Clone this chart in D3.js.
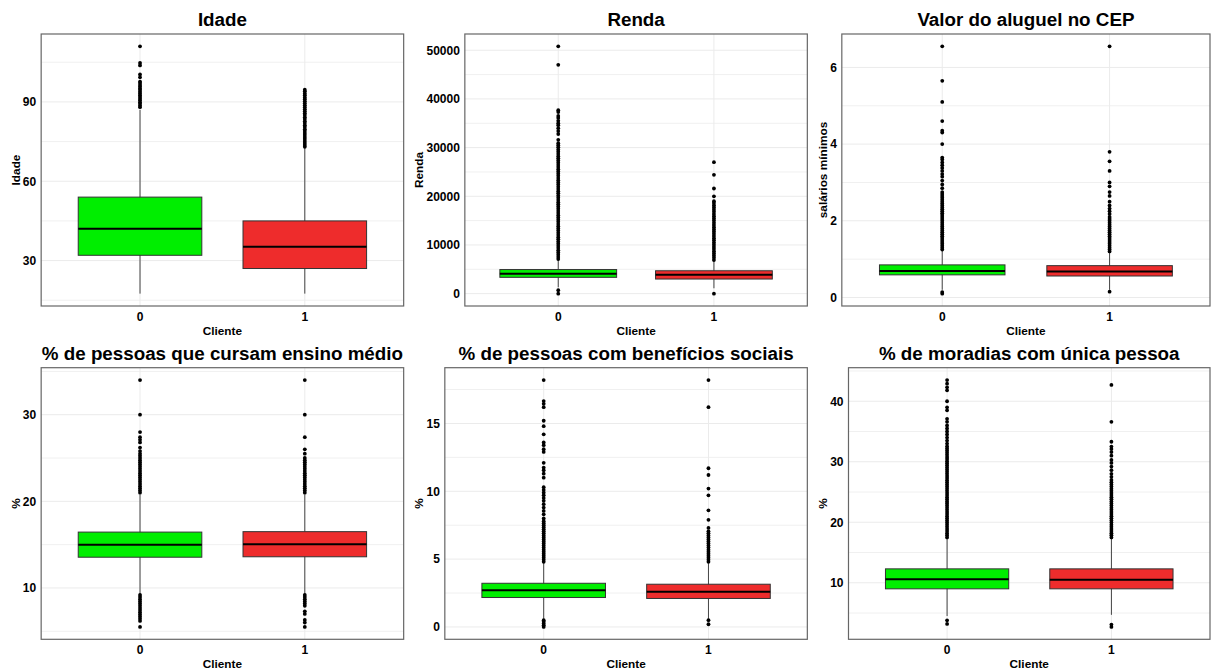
<!DOCTYPE html>
<html>
<head>
<meta charset="utf-8">
<script src="https://cdn.jsdelivr.net/npm/d3@7"></script>
<style>
    body { margin: 0; background: #fff; }
    svg { display: block; font-family: "Liberation Sans", Arial, sans-serif; }
    .title { font-size: 18.8px; font-weight: bold; fill: #000; }
    .tick-label { font-size: 12px; font-weight: bold; fill: #000; }
    .axis-title { font-size: 11.8px; font-weight: bold; fill: #000; }
</style>
</head>
<body>
<svg id="chart" width="1211" height="670"></svg>
<script>
const groups = ["0", "1"]
const groupColors = ["#00ee00", "#ee2c2c"]

// stats per group: [lower whisker, q1, median, q3, upper whisker]
const idadeTicks = [30, 60, 90]
const idadeStats = [[17.5, 32, 42, 54, 87], [17.5, 27, 35.2, 45, 72.5]]
const idadeOut0 = [88, 88.6, 89.3, 89.9, 90.6, 91.2, 91.9, 92.5, 93.2, 93.8, 94.5, 95.1, 95.8, 96.4, 97.1, 97.7, 99.3, 100.4, 103.8, 104.7, 111]
const idadeOut1 = [73, 73.7, 74.5, 75.2, 76, 76.7, 77.5, 78.2, 79, 79.7, 80.5, 81.2, 82, 82.7, 83.5, 84.2, 85, 85.7, 86.5, 87.2, 88, 88.7, 89.5, 90.2, 91, 91.7, 92.5, 93.2, 94, 94.6]

const rendaTicks = [0, 10000, 20000, 30000, 40000, 50000]
const rendaStats = [[1300, 3350, 4100, 4950, 7000], [1100, 3000, 3900, 4700, 6800]]
const rendaOut0 = [0, 700, 7100, 7550, 8000, 8450, 8900, 9350, 9800, 10250, 10700, 11150, 11600, 12050, 12500, 12950, 13400, 13850,
    14300, 14750, 15200, 15650, 16100, 16550, 17000, 17450, 17900, 18350, 18800, 19250, 19700, 20150, 20600, 21050, 21500,
    21950, 22400, 22850, 23300, 23750, 24200, 24650, 25100, 25550, 26000, 26450, 26900, 27350, 27800, 28250, 28700, 29150,
    29600, 30050, 30500, 30900, 31600, 32800, 33400, 34000, 34600, 35000, 35500, 36100, 36500, 37300, 37700, 47000, 50800]
const rendaOut1 = [0, 6900, 7350, 7800, 8250, 8700, 9150, 9600, 10050, 10500, 10950, 11400, 11850, 12300, 12750, 13200, 13650,
    14100, 14550, 15000, 15450, 15900, 16350, 16800, 17250, 17700, 18150, 18600, 19000, 20000, 21600, 24400, 27000]

const aluguelTicks = [0, 2, 4, 6]
const aluguelStats = [[0.2, 0.59, 0.69, 0.85, 1.22], [0.2, 0.56, 0.68, 0.83, 1.18]]
const aluguelOut0 = [0.1, 0.14, 1.25, 1.3, 1.35, 1.4, 1.45, 1.5, 1.55, 1.6, 1.65, 1.7, 1.75, 1.8, 1.85, 1.9, 1.95, 2, 2.05, 2.1,
    2.15, 2.2, 2.25, 2.3, 2.35, 2.4, 2.45, 2.5, 2.55, 2.6, 2.65, 2.7, 2.75, 2.85, 2.95, 3.05, 3.15, 3.22, 3.3, 3.38, 3.45, 3.52,
    3.6, 3.65, 4.0, 4.3, 4.35, 4.6, 5.1, 5.65, 6.55]
const aluguelOut1 = [0.15, 1.2, 1.25, 1.3, 1.35, 1.4, 1.45, 1.5, 1.55, 1.6, 1.65, 1.7, 1.75, 1.8, 1.85, 1.9, 1.95, 2, 2.05, 2.1,
    2.18, 2.25, 2.32, 2.4, 2.5, 2.65, 2.75, 2.9, 3.0, 3.3, 3.55, 3.8, 6.55]

const ensinoTicks = [10, 20, 30]
const ensinoStats = [[9.3, 13.55, 15.0, 16.45, 20.8], [9.3, 13.6, 15.05, 16.5, 20.8]]
const ensinoOut0 = [5.5, 6.2, 6.45, 6.7, 6.95, 7.2, 7.45, 7.7, 7.95, 8.2, 8.45, 8.7, 8.95, 9.2, 21, 21.25, 21.5, 21.75, 22, 22.25,
    22.5, 22.75, 23, 23.25, 23.5, 23.75, 24, 24.25, 24.5, 24.75, 25, 25.25, 25.5, 25.8, 26.2, 26.8, 27.1, 27.4, 28, 30, 34]
const ensinoOut1 = [5.5, 6.0, 6.3, 7.0, 7.3, 7.95, 8.2, 8.45, 8.7, 8.95, 9.2, 21, 21.25, 21.5, 21.75, 22, 22.25, 22.5, 22.75, 23,
    23.25, 23.5, 23.75, 24, 24.25, 24.5, 24.75, 25, 25.5, 26, 27.4, 30, 34]

const beneficiosTicks = [0, 5, 10, 15]
const beneficiosStats = [[0.6, 2.17, 2.7, 3.22, 4.7], [0.6, 2.1, 2.6, 3.15, 4.7]]
const beneficiosOut0 = [0, 0.12, 0.25, 0.38, 0.5, 4.8, 4.95, 5.1, 5.25, 5.4, 5.55, 5.7, 5.85, 6, 6.15, 6.3, 6.45, 6.6, 6.75, 6.9,
    7.05, 7.2, 7.35, 7.5, 7.65, 7.8, 8.0, 8.3, 8.55, 8.8, 9.05, 9.3, 9.5, 9.7, 9.9, 10.1, 10.3, 11.0, 11.3, 11.55, 11.75, 12.1,
    12.9, 13.1, 13.4, 13.6, 14.2, 14.8, 15.2, 16.2, 16.45, 16.65, 18.2]
const beneficiosOut1 = [0.2, 0.5, 4.8, 4.95, 5.1, 5.25, 5.4, 5.55, 5.7, 5.85, 6, 6.15, 6.3, 6.45, 6.6, 6.75, 6.9, 7.05, 7.3,
    7.9, 8.6, 9.7, 10.2, 11.2, 11.7, 16.2, 18.2]

const moradiasTicks = [10, 20, 30, 40]
const moradiasStats = [[4.5, 9.0, 10.6, 12.3, 17.3], [4.7, 9.0, 10.5, 12.3, 17.3]]
const moradiasOut0 = [3.2, 3.8, 17.5, 17.85, 18.2, 18.55, 18.9, 19.25, 19.6, 19.95, 20.3, 20.65, 21, 21.35, 21.7, 22.05, 22.4,
    22.75, 23.1, 23.45, 23.8, 24.15, 24.5, 24.85, 25.2, 25.55, 25.9, 26.25, 26.6, 26.95, 27.3, 27.65, 28, 28.35, 28.7, 29.05,
    29.4, 29.75, 30.1, 30.45, 30.8, 31.15, 31.5, 31.85, 32.2, 32.55, 33, 33.5, 34, 34.5, 35, 35.5, 36, 36.6, 37.1, 38.5, 39, 40,
    41.8, 42.3, 42.9, 43.5]
const moradiasOut1 = [2.7, 3.1, 17.5, 17.85, 18.2, 18.55, 18.9, 19.25, 19.6, 19.95, 20.3, 20.65, 21, 21.35, 21.7, 22.05, 22.4,
    22.75, 23.1, 23.45, 23.8, 24.15, 24.5, 24.85, 25.2, 25.55, 25.9, 26.25, 26.6, 27, 27.5, 28, 28.6, 29.2, 29.8, 30.3, 31,
    31.6, 32.1, 32.5, 33.3, 36.6, 42.7]

const panels = [
    { title: "Idade", yTitle: "Idade", ticks: idadeTicks, stats: idadeStats, out: [idadeOut0, idadeOut1] },
    { title: "Renda", yTitle: "Renda", ticks: rendaTicks, stats: rendaStats, out: [rendaOut0, rendaOut1] },
    { title: "Valor do aluguel no CEP", yTitle: "salários mínimos", ticks: aluguelTicks, stats: aluguelStats, out: [aluguelOut0, aluguelOut1] },
    { title: "% de pessoas que cursam ensino médio", yTitle: "%", ticks: ensinoTicks, stats: ensinoStats, out: [ensinoOut0, ensinoOut1] },
    { title: "% de pessoas com benefícios sociais", yTitle: "%", ticks: beneficiosTicks, stats: beneficiosStats, out: [beneficiosOut0, beneficiosOut1] },
    { title: "% de moradias com única pessoa", yTitle: "%", ticks: moradiasTicks, stats: moradiasStats, out: [moradiasOut0, moradiasOut1] },
]

const svg = d3.select("#chart")
const W = 1211, cellW = W / 3
const rowTop = [34, 367.7], rowBottom = [306, 639.3]

panels.forEach(drawPanel)

function drawPanel(p, i) {
    const col = i % 3, row = Math.floor(i / 3)
    const x0 = col * cellW

    // measure the widest tick label to place the panel like ggplot does
    const tmp = svg.append("text").attr("class", "tick-label")
    let labelW = 0
    p.ticks.forEach(t => { tmp.text(String(t)); labelW = Math.max(labelW, tmp.node().getComputedTextLength()) })
    tmp.remove()

    const left = x0 + 27.8 + labelW
    const right = Math.min(x0 + cellW, W - 1)
    const top = rowTop[row], bottom = rowBottom[row]

    const all = p.stats.flat().concat(p.out[0], p.out[1])
    const lo = d3.min(all), hi = d3.max(all), pad = (hi - lo) * 0.05
    const y = d3.scaleLinear().domain([lo - pad, hi + pad]).range([bottom, top])
    const x = d3.scaleBand().domain(groups).range([left, right]).paddingInner(0).paddingOuter(0.1)
    const cx = g => x(g) + x.bandwidth() / 2
    const boxW = x.bandwidth() * 0.75

    const g = svg.append("g")

    //grid
    const step = p.ticks[1] - p.ticks[0]
    const minor = [p.ticks[0] - step / 2].concat(p.ticks.map(t => t + step / 2))
        .filter(v => v > y.domain()[0] && v < y.domain()[1])
    g.selectAll(".minor").data(minor).enter().append("line")
        .attr("x1", left).attr("x2", right)
        .attr("y1", d => y(d)).attr("y2", d => y(d))
        .attr("stroke", "#f0f0f0").attr("stroke-width", 1)
    g.selectAll(".major").data(p.ticks).enter().append("line")
        .attr("x1", left).attr("x2", right)
        .attr("y1", d => y(d)).attr("y2", d => y(d))
        .attr("stroke", "#ebebeb").attr("stroke-width", 1)
    g.selectAll(".vgrid").data(groups).enter().append("line")
        .attr("x1", d => cx(d)).attr("x2", d => cx(d))
        .attr("y1", top).attr("y2", bottom)
        .attr("stroke", "#ebebeb").attr("stroke-width", 1)

    // whiskers
    groups.forEach((grp, k) => {
        const s = p.stats[k]
        g.append("line")
            .attr("x1", cx(grp)).attr("x2", cx(grp))
            .attr("y1", y(s[0])).attr("y2", y(s[4]))
            .attr("stroke", "#444").attr("stroke-width", 1)
    })

    // boxes
    groups.forEach((grp, k) => {
        const s = p.stats[k]
        g.append("rect")
            .attr("x", cx(grp) - boxW / 2)
            .attr("y", y(s[3]))
            .attr("width", boxW)
            .attr("height", y(s[1]) - y(s[3]))
            .attr("fill", groupColors[k])
            .attr("stroke", "#333").attr("stroke-width", 1)
        g.append("line")
            .attr("x1", cx(grp) - boxW / 2).attr("x2", cx(grp) + boxW / 2)
            .attr("y1", y(s[2])).attr("y2", y(s[2]))
            .attr("stroke", "#000").attr("stroke-width", 2)
    })

    // outliers
    groups.forEach((grp, k) => {
        g.selectAll(null).data(p.out[k]).enter().append("circle")
            .attr("cx", cx(grp))
            .attr("cy", d => y(d))
            .attr("r", 1.9)
            .attr("fill", "#000")
    })

    // panel border
    g.append("rect")
        .attr("x", left).attr("y", top)
        .attr("width", right - left).attr("height", bottom - top)
        .attr("fill", "none").attr("stroke", "#666").attr("stroke-width", 1.2)

    // y axis
    const ya = g.append("g")
        .attr("transform", `translate(${left},0)`)
        .call(d3.axisLeft(y).tickValues(p.ticks).tickSize(0).tickPadding(5).tickFormat(d => String(d)))
    ya.select(".domain").remove()
    ya.attr("font-family", null).attr("font-size", null)
    ya.selectAll("text").attr("class", "tick-label").attr("fill", null)

    // x axis
    const xa = g.append("g")
        .attr("transform", `translate(0,${bottom})`)
        .call(d3.axisBottom(x).tickSize(0).tickPadding(6))
    xa.select(".domain").remove()
    xa.attr("font-family", null).attr("font-size", null)
    xa.selectAll("text").attr("class", "tick-label").attr("fill", null)

    //Top Title
    g.append("text")
        .attr("class", "title")
        .attr("x", (left + right) / 2)
        .attr("y", top - 8)
        .attr("text-anchor", "middle")
        .text(p.title)

    //x Axis Title
    g.append("text")
        .attr("class", "axis-title")
        .attr("x", (left + right) / 2)
        .attr("y", bottom + 28.5)
        .attr("text-anchor", "middle")
        .text("Cliente")

    //y Axis Title
    g.append("text")
        .attr("class", "axis-title")
        .attr("transform", `translate(${x0 + 19.5},${(top + bottom) / 2}) rotate(-90)`)
        .attr("text-anchor", "middle")
        .text(p.yTitle)
}
</script>
</body>
</html>
